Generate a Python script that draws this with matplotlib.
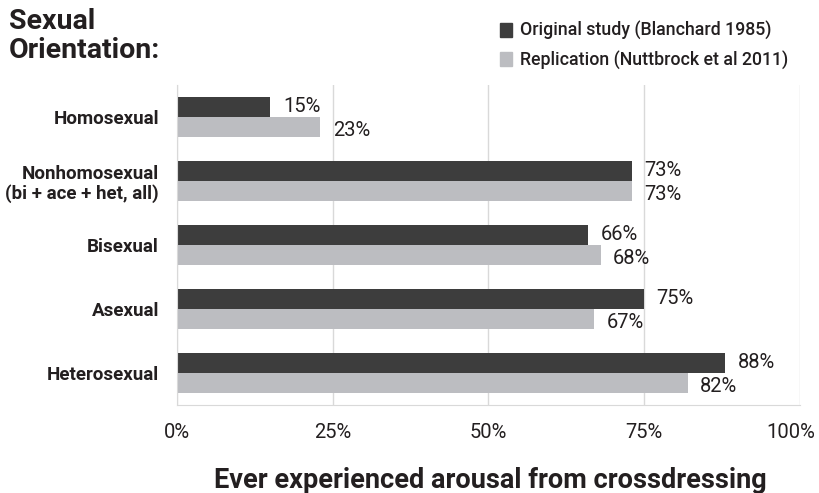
import matplotlib.pyplot as plt
from matplotlib.patches import Patch
from matplotlib.transforms import ScaledTranslation

plt.rcParams['font.family'] = ['Roboto', 'DejaVu Sans']

CATEGORIES = ['Homosexual', 'Nonhomosexual\n(bi + ace + het, all)',
              'Bisexual', 'Asexual', 'Heterosexual']
ORIGINAL = [15, 73, 66, 75, 88]
REPLICATION = [23, 73, 68, 67, 82]
SERIES = ['Original study (Blanchard 1985)', 'Replication (Nuttbrock et al 2011)']
XTICKS = [0, 25, 50, 75, 100]

DARK = '#3d3d3d'
LIGHT = '#bcbdc1'
TEXT = '#231f20'

fig = plt.figure(figsize=(8.2, 4.93), dpi=100)
ax = fig.add_axes([177 / 820, 1 - 405 / 493, 623 / 820, 320 / 493])

ypos = list(range(len(CATEGORIES)))
h = 0.32
ax.barh([y - h / 2 for y in ypos], ORIGINAL, height=h, color=DARK, zorder=3)
ax.barh([y + h / 2 for y in ypos], REPLICATION, height=h, color=LIGHT, zorder=3)

for y, v in zip(ypos, ORIGINAL):
    ax.annotate(f'{v}%', (v, y - h / 2), xytext=(9, 0), textcoords='offset points',
                va='center', ha='left', fontsize=14.5, color=TEXT)
for y, v in zip(ypos, REPLICATION):
    ax.annotate(f'{v}%', (v, y + h / 2), xytext=(9, -2), textcoords='offset points',
                va='center', ha='left', fontsize=14.5, color=TEXT)

ax.set_xlim(0, 100)
ax.set_ylim(len(CATEGORIES) - 0.5, -0.5)
ax.set_xticks(XTICKS)
ax.set_xticklabels([f'{t}%' for t in XTICKS], fontsize=14.5, color=TEXT)
ax.set_yticks(ypos)
ax.set_yticklabels(CATEGORIES, fontsize=13.5, fontweight='bold', color=TEXT,
                   multialignment='right', linespacing=1.1)
ax.tick_params(axis='x', length=0, pad=13)
ax.tick_params(axis='y', length=0, pad=13)
# keep the 100% label inside the picture, as in the original
last = ax.get_xticklabels()[-1]
last.set_transform(last.get_transform() + ScaledTranslation(-9 / 100, 0, fig.dpi_scale_trans))

ax.grid(axis='x', color='#d9d9d9', linewidth=1, zorder=0)
for side in ['top', 'right']:
    ax.spines[side].set_visible(False)
for side in ['left', 'bottom']:
    ax.spines[side].set_color('#d9d9d9')
    ax.spines[side].set_zorder(4)

fig.text(9 / 820, 1 - 8 / 493, 'Sexual\nOrientation:', ha='left', va='top',
         fontsize=20.5, fontweight='bold', color=TEXT, linespacing=1.1)

handles = [Patch(color=DARK), Patch(color=LIGHT)]
fig.legend(handles, SERIES, loc='upper left', bbox_to_anchor=(484 / 820, 1 - 5 / 493),
           frameon=False, handlelength=0.65, handleheight=0.85,
           handletextpad=0.5, labelspacing=0.6, labelcolor=TEXT,
           prop={'size': 12.8, 'weight': 'medium'})

fig.text(490 / 820, 1 - 480 / 493, 'Ever experienced arousal from crossdressing',
         ha='center', va='center', fontsize=19.5, fontweight='bold', color=TEXT)

fig.savefig('out.png', dpi=100)
